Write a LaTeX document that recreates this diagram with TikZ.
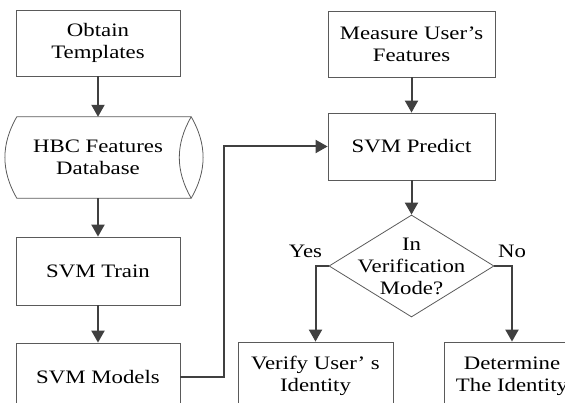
\documentclass[tikz,border=0pt]{standalone}
\usepackage{fontspec}
\setmainfont{Liberation Serif}[FakeStretch=1.2]
\usetikzlibrary{arrows.meta,shapes.geometric,calc}

\begin{document}
\begin{tikzpicture}[x=1pt, y=1pt, font=\fontsize{19}{22}\selectfont]

\definecolor{boxgray}{RGB}{90,90,90}
\definecolor{arrowgray}{RGB}{64,64,64}

\tikzset{
  block/.style={draw=boxgray, line width=0.8pt, rectangle, align=center, inner sep=0pt, minimum width=164pt, minimum height=66pt},
  decision/.style={draw=boxgray, line width=0.8pt, diamond, inner sep=0pt, minimum width=165pt, minimum height=102pt},
  flow/.style={draw=arrowgray, line width=2pt, -{Triangle[width=13pt,length=12pt]}}
}

\useasboundingbox (0,0) rectangle (565,403);
\clip (0,0) rectangle (565,403);

% Trainingszweig
\node[block] (obtain) at (98,360) {Obtain\\Templates};
\node[align=center, inner sep=0pt, minimum width=162pt, minimum height=81pt] (database) at (98,245.5) {HBC Features\\Database};
\node[block, minimum height=68pt] (train) at (98,132) {SVM Train};
\node[block, minimum height=68pt] (models) at (98,26) {SVM Models};

% liegender Zylinder
\coordinate (dbtop) at ($(database.north east)+(12,0)$);
\coordinate (dbbottom) at ($(database.south east)+(12,0)$);
\draw[boxgray, line width=0.8pt] (database.south west) to[bend left=30] (database.north west) -- (dbtop) to[bend left=30] (dbbottom) -- cycle;
\draw[boxgray, line width=0.8pt] (dbtop) to[bend right=30] (dbbottom);

% Erkennungszweig
\node[block, minimum width=167pt] (measure) at (411.5,359) {Measure User's\\Features};
\node[block, minimum width=167pt, minimum height=67pt] (predict) at (411.5,256.5) {SVM Predict};
\node[decision] (mode) at (411.5,137) {};
\node[align=center, inner sep=0pt] (modetext) at (mode.center) {In\\Verification\\Mode?};
\node[block, minimum width=155pt, minimum height=68pt] (verify) at (315.5,27) {Verify User' s\\Identity};
\node[block, minimum width=136pt, minimum height=68pt] (determine) at (512,27) {Determine\\The Identity};

% Pfeile
\draw[flow] (obtain.south) -- (database.north);
\draw[flow] (database.south) -- (train.north);
\draw[flow] (train.south) -- (models.north);
\draw[flow] (models.east) -- ++(44,0) |- (predict.west);
\draw[flow] (measure.south) -- (predict.north);
\draw[flow] (predict.south) -- (mode.north);
\draw[flow] (mode.west) -| node[pos=0.5, above=4pt, xshift=-10pt] (yes) {Yes} (verify.north);
\draw[flow] (mode.east) -| node[pos=0.5, above=4pt] (no) {No} (determine.north);

\end{tikzpicture}
\end{document}
